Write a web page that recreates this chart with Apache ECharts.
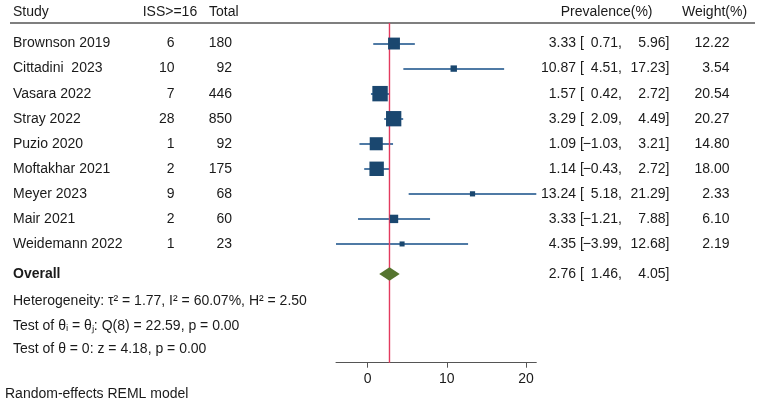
<!DOCTYPE html>
<html>
<head>
<meta charset="utf-8">
<script src="https://cdn.jsdelivr.net/npm/echarts@6/dist/echarts.min.js"></script>
<style>html,body{margin:0;padding:0;background:#fff}#c{width:762px;height:413px}</style>
</head>
<body>
<div id="c"></div>
<script>
const studies = ['Brownson 2019','Cittadini  2023','Vasara 2022','Stray 2022','Puzio 2020','Moftakhar 2021','Meyer 2023','Mair 2021','Weidemann 2022'];
const issCases = [6,10,7,28,1,2,9,2,1];
const totals = [180,92,446,850,92,175,68,60,23];
const prevalence = [3.33,10.87,1.57,3.29,1.09,1.14,13.24,3.33,4.35];
const lowerCI = [0.71,4.51,0.42,2.09,-1.03,-0.43,5.18,-1.21,-3.99];
const upperCI = [5.96,17.23,2.72,4.49,3.21,2.72,21.29,7.88,12.68];
const weights = [12.22,3.54,20.54,20.27,14.80,18.00,2.33,6.10,2.19];
const overall = {est:2.76, lo:1.46, hi:4.05};
const xTicks = [0,10,20];
const rows = studies.map((s,i)=>i);
const overallRow = 9.2;
const yMin = -0.82, yMax = 12.74;

const FONT = '"Liberation Sans", Arial, sans-serif';
const TXT = '#1a1a1a';
const fmt = v => v.toFixed(2).replace('-', '\u2212');

const chart = echarts.init(document.getElementById('c'), null, {renderer:'canvas'});
const option = {
  animation:false,
  backgroundColor:'#fff',
  grid:{left:336, right:225.7, top:23, bottom:50.3, containLabel:false},
  xAxis:{type:'value', min:-3.99, max:21.29,
    splitLine:{show:false},
    axisLine:{show:true, onZero:false, lineStyle:{color:'#555', width:1}},
    axisTick:{show:true, length:5, lineStyle:{color:'#555'}, customValues:xTicks},
    axisLabel:{customValues:xTicks, fontFamily:FONT, fontSize:14, color:TXT, margin:9}
  },
  yAxis:{type:'value', inverse:true, min:yMin, max:yMax, show:false},
  series:[
    {type:'lines', coordinateSystem:'cartesian2d', silent:true, z:2,
      lineStyle:{color:'#4f7aa5', width:2, opacity:1},
      data: rows.map(i=>({coords:[[lowerCI[i], i],[upperCI[i], i]]}))
    },
    {type:'custom', z:3, silent:true,
      data:[[overall.est, yMin, yMax]],
      renderItem:(params, api)=>{
        const a = api.coord([api.value(0), api.value(1)]);
        const b = api.coord([api.value(0), api.value(2)]);
        return {type:'line', shape:{x1:a[0], y1:a[1], x2:b[0], y2:b[1]},
          style:{stroke:'#e33a5e', lineWidth:1.4}};
      }
    },
    {type:'scatter', symbol:'rect', z:4,
      itemStyle:{color:'#1a476f', opacity:1},
      data: rows.map(i=>({value:[prevalence[i], i], symbolSize: 3.4*Math.sqrt(weights[i])}))
    },
    {type:'custom', z:5,
      data:[[overall.lo, overall.est, overall.hi, overallRow]],
      renderItem:(params, api)=>{
        const y = api.value(3);
        const pl = api.coord([api.value(0), y]);
        const pc = api.coord([api.value(1), y]);
        const pr = api.coord([api.value(2), y]);
        const h = 6.8;
        return {type:'polygon', shape:{points:[[pl[0],pl[1]],[pc[0],pc[1]-h],[pr[0],pr[1]],[pc[0],pc[1]+h]]},
          style:{fill:'#55752f'}};
      }
    }
  ]
};
chart.setOption(option);

const g = [];
function txt(x, y, s, align, extra){
  g.push(Object.assign({type:'text', x:x, y:y, silent:true,
    style:{text:s, x:0, y:0, align:align||'left', verticalAlign:'middle', fontFamily:FONT, fontSize:14, fill:TXT}}, extra||{}));
}
// header
const hy = 12.5;
txt(13, hy, 'Study');
txt(142.7, hy, 'ISS>=16');
txt(209, hy, 'Total');
txt(560.7, hy, 'Prevalence(%)');
txt(682, hy, 'Weight(%)');
g.push({type:'line', silent:true, shape:{x1:10, y1:23, x2:755, y2:23}, style:{stroke:'#555', lineWidth:1.5}});

rows.forEach(i=>{
  const y = chart.convertToPixel({yAxisIndex:0}, i);
  txt(13, y, studies[i]);
  txt(174.5, y, String(issCases[i]), 'right');
  txt(232, y, String(totals[i]), 'right');
  txt(576, y, fmt(prevalence[i]), 'right');
  txt(580, y, '[');
  txt(622, y, fmt(lowerCI[i]) + ',', 'right');
  txt(669.5, y, fmt(upperCI[i]) + ']', 'right');
  txt(729.5, y, weights[i].toFixed(2), 'right');
});
const oy = chart.convertToPixel({yAxisIndex:0}, overallRow);
g.push({type:'text', x:13, y:oy, silent:true, style:{text:'Overall', align:'left', verticalAlign:'middle', fontFamily:FONT, fontSize:14, fontWeight:'bold', fill:TXT}});
txt(576, oy, fmt(overall.est), 'right');
txt(580, oy, '[');
txt(622, oy, fmt(overall.lo) + ',', 'right');
txt(669.5, oy, fmt(overall.hi) + ']', 'right');

txt(13, 301.5, 'Heterogeneity: \u03c4\u00b2 = 1.77, I\u00b2 = 60.07%, H\u00b2 = 2.50');
txt(13, 326, 'Test of \u03b8\u1d62 = \u03b8\u2c7c: Q(8) = 22.59, p = 0.00');
txt(13, 349.5, 'Test of \u03b8 = 0: z = 4.18, p = 0.00');
txt(5, 394, 'Random-effects REML model');

chart.setOption({graphic:{elements:g}});
</script>
</body>
</html>
